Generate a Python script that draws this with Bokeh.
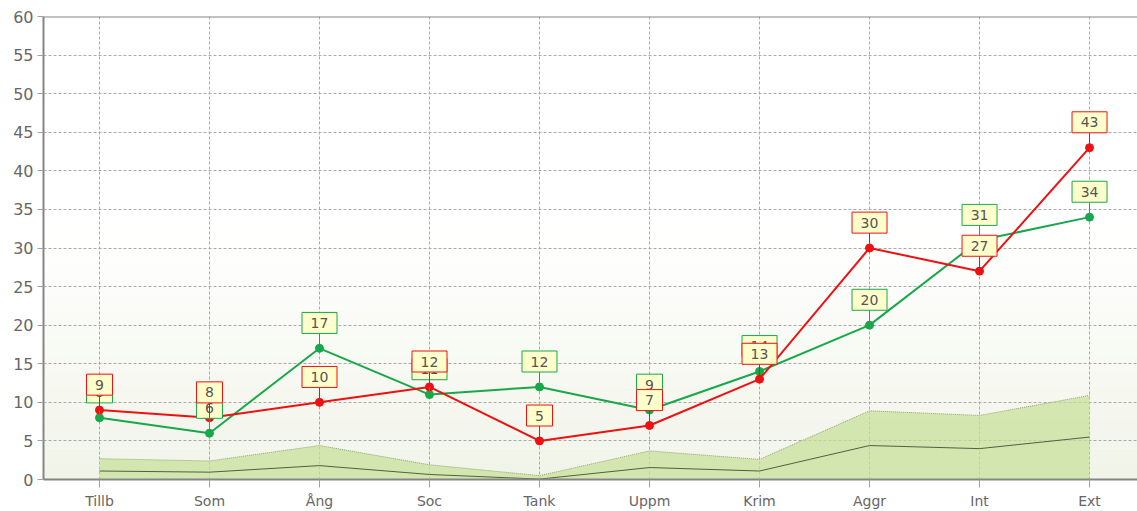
from bokeh.plotting import figure
from bokeh.models import Range1d, FixedTicker, Span, BoxAnnotation, ColumnDataSource
from bokeh.core.properties import value
from bokeh.embed import file_html
from bokeh.resources import INLINE

categories = ["Tillb", "Som", "Ång", "Soc", "Tank", "Uppm", "Krim", "Aggr", "Int", "Ext"]
red_values = [9, 8, 10, 12, 5, 7, 13, 30, 27, 43]
green_values = [8, 6, 17, 11, 12, 9, 14, 20, 31, 34]
band_upper = [2.7, 2.4, 4.4, 1.9, 0.5, 3.7, 2.6, 8.9, 8.3, 10.9]
band_mid = [1.1, 0.95, 1.8, 0.65, 0.05, 1.55, 1.1, 4.4, 4.0, 5.5]
y_ticks = list(range(0, 61, 5))

FONT = "DejaVu Sans"
RED = "#ee1111"
GREEN = "#18a84a"

xs = list(range(len(categories)))

p = figure(width=1137, height=511, output_backend="svg", toolbar_location=None,
           x_range=Range1d(-0.509, 9.436), y_range=Range1d(0, 60),
           min_border_left=43, min_border_right=0, min_border_top=16, min_border_bottom=30)
p.outline_line_color = None
p.background_fill_color = "white"
p.border_fill_color = "white"

# background gradient (white at top, pale green-grey at bottom)
top_c = (255, 255, 255)
bot_c = (241, 244, 232)
n = 16
for i in range(n):
    t = (i + 0.5) / n
    c = tuple(int(round(bot_c[k] + (top_c[k] - bot_c[k]) * t)) for k in range(3))
    p.add_layout(BoxAnnotation(bottom=32 * i / n, top=32 * (i + 1) / n,
                               fill_color="#%02x%02x%02x" % c, fill_alpha=1.0,
                               line_color=None, level="image"))

# grids
p.xgrid.ticker = FixedTicker(ticks=xs)
p.ygrid.ticker = FixedTicker(ticks=y_ticks)
for g in (p.xgrid, p.ygrid):
    g.grid_line_color = "#aaaaaa"
    g.grid_line_dash = "3 2"
    g.grid_line_width = 1

# axes
p.xaxis.ticker = FixedTicker(ticks=xs)
p.xaxis.major_label_overrides = {i: c for i, c in enumerate(categories)}
p.yaxis.ticker = FixedTicker(ticks=y_ticks)
for ax in (p.xaxis, p.yaxis):
    ax.axis_line_color = "#858585"
    ax.axis_line_width = 2
    ax.major_tick_line_color = "#a0a0a0"
    ax.major_tick_in = 0
    ax.minor_tick_line_color = None
    ax.major_label_text_color = "#666666"
    ax.major_label_text_font = FONT
p.xaxis.major_tick_out = 8
p.xaxis.major_label_standoff = 5
p.xaxis.major_label_text_font_size = "14px"
p.yaxis.major_tick_out = 6
p.yaxis.major_label_standoff = 4
p.yaxis.major_label_text_font_size = "16px"

p.add_layout(Span(location=60, dimension="width", line_color="#858585", line_width=2))

# band area
p.varea(x=xs, y1=[0] * len(xs), y2=band_upper, fill_color="#c6e095", fill_alpha=0.7)
p.line(xs, band_upper, line_color="#8fa36f", line_width=1, line_dash="1 1")
p.line(xs, band_mid, line_color="#4f6140", line_width=1)

# series
for vals, col in ((green_values, GREEN), (red_values, RED)):
    p.line(xs, vals, line_color=col, line_width=2)
    p.scatter(xs, vals, size=8, fill_color=col, line_color=col)

# labels
px_per_unit = 465 / 60.0
for vals, col in ((green_values, GREEN), (red_values, RED)):
    txt = [str(v) for v in vals]
    src = ColumnDataSource(dict(
        x=xs, y=vals, text=txt,
        by=[v + 25.5 / px_per_unit for v in vals],
        ctop=[v + 15 / px_per_unit for v in vals],
        w=[8 + 9 * len(t) + 9 for t in txt],
    ))
    p.segment(x0="x", y0="y", x1="x", y1="ctop", source=src, line_color=col, line_width=1)
    p.rect(x="x", y="by", width="w", height=21, width_units="screen", height_units="screen",
           source=src, fill_color="#ffffcc", line_color=col, line_width=1)
    p.text(x="x", y="by", text="text", source=src, text_align="center", text_baseline="middle",
           text_font=value(FONT), text_font_size="14px", text_color="#555555")

open("out.html", "w").write(file_html(p, INLINE))
